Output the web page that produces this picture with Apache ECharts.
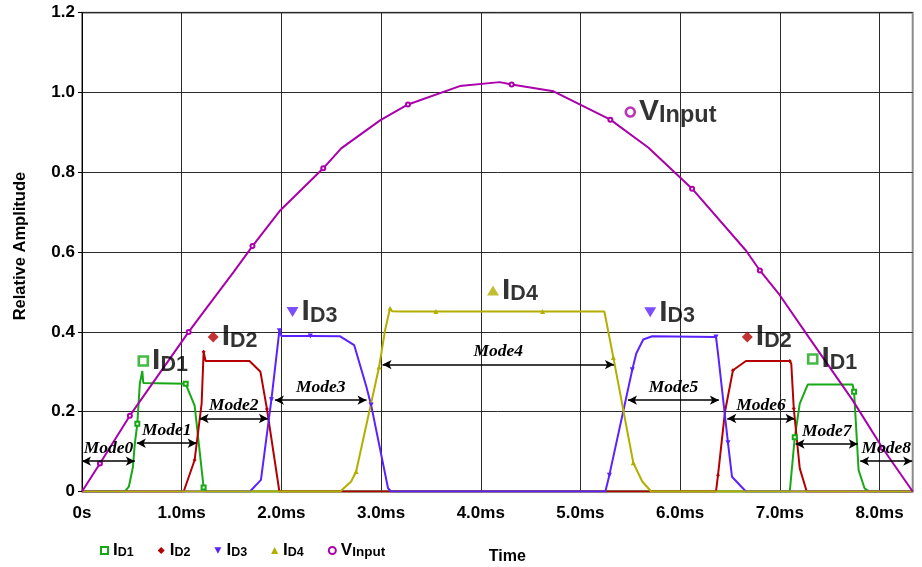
<!DOCTYPE html>
<html><head><meta charset="utf-8">
<script src="https://cdn.jsdelivr.net/npm/echarts@6/dist/echarts.min.js"></script>
<style>html,body{margin:0;padding:0;background:#fff}#c{width:922px;height:567px}</style>
</head><body><div id="c"></div>
<script>
// ---- data (time in ms, relative amplitude) ----
const xTickLabels = ['0s','1.0ms','2.0ms','3.0ms','4.0ms','5.0ms','6.0ms','7.0ms','8.0ms'];
const yTickLabels = ['0','0.2','0.4','0.6','0.8','1.0','1.2'];
const seriesNames = ['ID1','ID2','ID3','ID4','VInput'];

const id1 = [[0,0],[0.43,0],[0.47,0.012],[0.51,0.06],[0.53,0.12],[0.555,0.17],[0.58,0.27],[0.605,0.302],[0.615,0.272],[1.04,0.27],[1.13,0.215],[1.22,0.01],[1.24,0],[7.10,0],[7.15,0.136],[7.20,0.22],[7.28,0.268],[7.73,0.268],[7.745,0.25],[7.79,0.054],[7.85,0.008],[7.90,0],[8.333,0]];
const id1Marks = [5,9,11,14,18];

const id2 = [[0,0],[1.02,0],[1.13,0.079],[1.20,0.22],[1.22,0.35],[1.24,0.327],[1.68,0.327],[1.79,0.30],[1.855,0.207],[1.98,0],[6.36,0],[6.38,0.041],[6.45,0.2],[6.53,0.304],[6.66,0.327],[7.07,0.327],[7.10,0.327],[7.115,0.32],[7.14,0.208],[7.20,0.058],[7.27,0],[8.333,0]];
const id2Marks = [2,4,8,11,13,16,18];

const id3 = [[0,0],[1.685,0],[1.795,0.029],[1.90,0.23],[1.98,0.403],[2.0,0.39],[2.29,0.39],[2.59,0.389],[2.73,0.367],[2.85,0.265],[2.90,0.217],[3.07,0.008],[3.10,0],[5.25,0],[5.29,0.041],[5.52,0.305],[5.56,0.346],[5.63,0.381],[5.72,0.389],[6.36,0.387],[6.38,0.346],[6.48,0.122],[6.52,0.037],[6.66,0],[8.333,0]];
const id3Marks = [3,4,6,10,14,15,19,21];

const id4 = [[0,0],[2.59,0],[2.70,0.025],[2.75,0.05],[2.98,0.312],[3.04,0.404],[3.09,0.459],[3.11,0.452],[3.21,0.451],[3.55,0.451],[4.62,0.451],[5.24,0.451],[5.33,0.336],[5.53,0.072],[5.62,0.025],[5.71,0],[8.333,0]];
const id4Marks = [3,4,6,9,10,12,13];

const vin = [[0,0],[0.18,0.07],[0.48,0.19],[1.07,0.40],[1.25,0.46],[1.52,0.55],[1.71,0.615],[1.99,0.705],[2.42,0.81],[2.60,0.86],[2.99,0.93],[3.27,0.97],[3.79,1.016],[4.19,1.026],[4.31,1.020],[4.73,1.003],[5.30,0.932],[5.68,0.862],[6.12,0.759],[6.66,0.604],[6.80,0.554],[7.00,0.492],[7.30,0.383],[7.73,0.229],[8.03,0.109],[8.333,0]];
const vinMarks = [1,2,3,6,8,11,14,16,18,20,24];

// in-plot series labels: [series, t, v]
const tagNames = ['ID1','ID2','ID3','ID4','VInput','ID3','ID2','ID1'];
const tagT = [0.615,1.316,2.112,4.123,5.50,5.70,6.674,7.33];
const tagV = [0.327,0.387,0.450,0.504,0.951,0.449,0.387,0.332];

// operating modes: name, start, end, level
const modeNames = ['Mode0','Mode1','Mode2','Mode3','Mode4','Mode5','Mode6','Mode7','Mode8'];
const modeStart = [0,0.55,1.18,1.935,3.015,5.477,6.473,7.158,7.806];
const modeEnd   = [0.53,1.15,1.865,2.854,5.336,6.389,7.148,7.782,8.328];
const modeLevel = [0.076,0.121,0.183,0.229,0.318,0.229,0.183,0.119,0.076];

// ---- styles ----
const colors = {ID1:'#16a816', ID2:'#b40000', ID3:'#5a22ff', ID4:'#b3ae00', VInput:'#aa00aa'};
const lineSym = {ID1:'emptyRect', ID2:'diamond', ID3:'triangle', ID4:'triangle', VInput:'emptyCircle'};
const legendIcon = {ID1:'emptyRect', ID2:'diamond', ID3:'path://M0,0 L10,0 L5,9 Z', ID4:'triangle', VInput:'emptyCircle'};
const symRot = {ID1:0, ID2:0, ID3:180, ID4:0, VInput:0};
const SANS = 'Liberation Sans, Arial, sans-serif';

function fmtName(n){ return '{a|' + n[0] + '}{' + (n === 'VInput' ? 'c' : 'b') + '|' + n.slice(1) + '}'; }

function lineSeries(name, pts, marks){
  const ms = new Set(marks);
  return {
    type:'line', name: name, z: 2,
    data: pts.map((p,i) => ms.has(i) ? {value:p} : {value:p, symbol:'none'}),
    symbol: lineSym[name], symbolSize: name === 'ID3' || name === 'ID4' ? 5 : 4,
    symbolRotate: symRot[name], showAllSymbol: true,
    lineStyle:{color: colors[name], width: 2},
    itemStyle:{color: colors[name], borderWidth: 1},
    emphasis:{disabled:true}, animation:false
  };
}

const tagStyle = {
  ID1:{symbol:'rect', symbolSize:9, itemStyle:{color:'#fff', borderColor:colors.ID1, borderWidth:2.6}},
  ID2:{symbol:'diamond', symbolSize:11, itemStyle:{color:colors.ID2}},
  ID3:{symbol:'triangle', symbolSize:[12,10], symbolRotate:180, itemStyle:{color:colors.ID3}},
  ID4:{symbol:'triangle', symbolSize:[12,10], itemStyle:{color:colors.ID4}},
  VInput:{symbol:'circle', symbolSize:9, itemStyle:{color:'#fff', borderColor:colors.VInput, borderWidth:2.6}}
};

const tagData = tagNames.map((n,i) => Object.assign({name:n, value:[tagT[i], tagV[i]]}, tagStyle[n]));

const modeData = modeNames.map((n,i) => [{name:n, coord:[modeStart[i], modeLevel[i]]}, {coord:[modeEnd[i], modeLevel[i]]}]);

const chart = echarts.init(document.getElementById('c'), null, {renderer:'canvas'});
chart.setOption({
  animation:false,
  backgroundColor:'#fff',
  grid:{left:82, right:9.3, top:12.7, bottom:75.5, outerBoundsMode:'none', containLabel:false,
    show:true, borderColor:'#8c8c8c', borderWidth:2, backgroundColor:'transparent'},
  xAxis:{
    type:'value', min:0, max:8.333, interval:1,
    name:'Time', nameLocation:'middle', nameGap:57,
    nameTextStyle:{fontFamily:SANS, fontWeight:'bold', fontSize:16, color:'#000', padding:[0,0,0,20]},
    axisLine:{show:true, onZero:false, lineStyle:{color:'#000', width:1}},
    axisTick:{show:false},
    axisLabel:{margin:13, fontFamily:SANS, fontWeight:'bold', fontSize:17, color:'#000', showMaxLabel:false,
      formatter: v => xTickLabels[Math.round(v)] ?? ''},
    splitLine:{show:true, showMaxLine:false, lineStyle:{color:'#2a2a2a', width:1}}
  },
  yAxis:{
    type:'value', min:0, max:1.2, interval:0.2,
    name:'Relative Amplitude', nameLocation:'middle', nameGap:53,
    nameTextStyle:{fontFamily:SANS, fontWeight:'bold', fontSize:16.5, color:'#000', padding:[0,0,0,12]},
    axisLine:{show:true, lineStyle:{color:'#000', width:1}},
    axisTick:{show:true, length:4, lineStyle:{color:'#000'}},
    axisLabel:{margin:7, fontFamily:SANS, fontWeight:'bold', fontSize:17, color:'#000',
      formatter: v => yTickLabels[Math.round(v / 0.2)] ?? ''},
    splitLine:{show:true, lineStyle:{color:'#2a2a2a', width:1}}
  },
  legend:{
    left:95, top:537, itemWidth:7, itemHeight:7, itemGap:24,
    data: seriesNames.map(n => ({name:n, icon: legendIcon[n]})),
    formatter: fmtName,
    selectedMode:false,
    textStyle:{color:'#000', rich:{
      a:{fontFamily:SANS, fontWeight:'bold', fontSize:17, lineHeight:17, verticalAlign:'bottom', color:'#000'},
      b:{fontFamily:SANS, fontWeight:'bold', fontSize:12.5, lineHeight:13, verticalAlign:'bottom', color:'#000'},
      c:{fontFamily:SANS, fontWeight:'bold', fontSize:13.5, lineHeight:14, verticalAlign:'bottom', color:'#000'}
    }}
  },
  series:[
    lineSeries('ID1', id1, id1Marks),
    lineSeries('ID2', id2, id2Marks),
    lineSeries('ID3', id3, id3Marks),
    lineSeries('ID4', id4, id4Marks),
    lineSeries('VInput', vin, vinMarks),
    {
      type:'scatter', name:'tags', z:5, silent:true, animation:false,
      data: tagData,
      label:{show:true, position:'right', distance:3,
        formatter: p => fmtName(p.name),
        rich:{
          a:{fontFamily:SANS, fontWeight:'bold', fontSize:30, lineHeight:30, verticalAlign:'bottom', color:'#000'},
          b:{fontFamily:SANS, fontWeight:'bold', fontSize:21.5, lineHeight:22, verticalAlign:'bottom', color:'#000'},
          c:{fontFamily:SANS, fontWeight:'bold', fontSize:23.5, lineHeight:24, verticalAlign:'bottom', color:'#000'}
        }},
      markLine:{
        silent:true, animation:false,
        symbol:['arrow','arrow'], symbolSize:[7,9],
        lineStyle:{color:'#000', width:1.5, type:'solid'},
        label:{show:true, position:'middle', distance:4, formatter:'{b}',
          fontFamily:'Liberation Serif, Times New Roman, serif', fontStyle:'italic', fontWeight:'bold', fontSize:17.5, color:'#000'},
        data: modeData
      }
    }
  ]
});
</script></body></html>
